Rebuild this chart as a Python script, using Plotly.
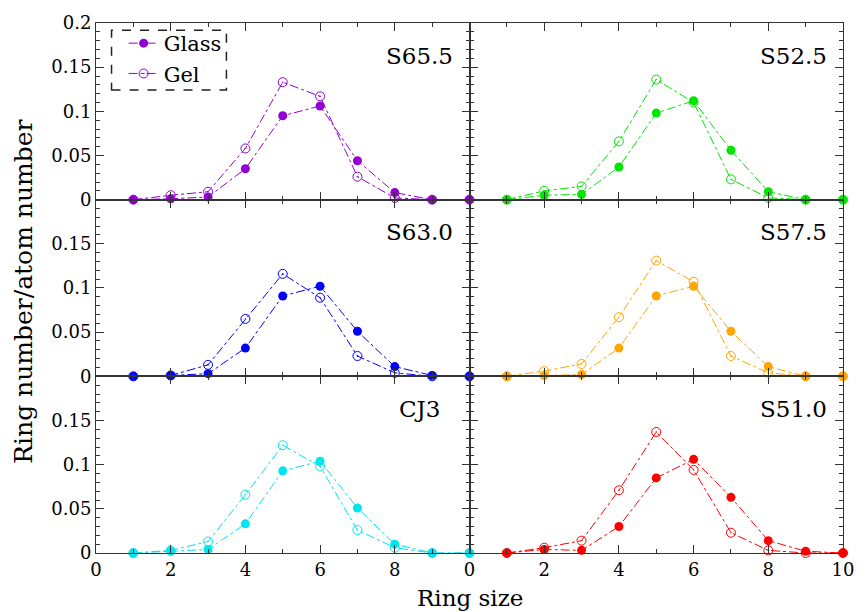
import plotly.graph_objects as go
from plotly.subplots import make_subplots

ring_size = [1, 2, 3, 4, 5, 6, 7, 8, 9, 10]

panels = ["S65.5", "S52.5", "S63.0", "S57.5", "CJ3", "S51.0"]
colors = ["#9400D3", "#00E600", "#0000FF", "#FFA500", "#00E5EE", "#FF0000"]

glass_S65_5 = [0.000, 0.001, 0.003, 0.035, 0.095, 0.106, 0.044, 0.008, 0.000, 0.000]
gel_S65_5   = [0.000, 0.005, 0.009, 0.058, 0.133, 0.117, 0.026, 0.002, 0.000, 0.000]
glass_S52_5 = [0.000, 0.005, 0.006, 0.037, 0.098, 0.112, 0.056, 0.009, 0.000, 0.000]
gel_S52_5   = [0.000, 0.010, 0.015, 0.066, 0.136, 0.110, 0.023, 0.002, 0.000, 0.000]
glass_S63_0 = [0.000, 0.001, 0.003, 0.032, 0.091, 0.102, 0.051, 0.011, 0.001, 0.000]
gel_S63_0   = [0.000, 0.001, 0.013, 0.065, 0.116, 0.089, 0.023, 0.004, 0.000, 0.000]
glass_S57_5 = [0.000, 0.001, 0.002, 0.032, 0.091, 0.102, 0.051, 0.011, 0.000, 0.000]
gel_S57_5   = [0.000, 0.006, 0.014, 0.067, 0.131, 0.107, 0.023, 0.004, 0.000, 0.000]
glass_CJ3   = [0.000, 0.002, 0.004, 0.033, 0.093, 0.104, 0.051, 0.010, 0.000, 0.000]
gel_CJ3     = [0.000, 0.003, 0.013, 0.066, 0.122, 0.098, 0.026, 0.006, 0.000, 0.000]
glass_S51_0 = [0.000, 0.004, 0.003, 0.030, 0.085, 0.106, 0.063, 0.014, 0.002, 0.000]
gel_S51_0   = [0.000, 0.006, 0.014, 0.071, 0.137, 0.094, 0.023, 0.003, 0.000, 0.000]

glass = [glass_S65_5, glass_S52_5, glass_S63_0, glass_S57_5, glass_CJ3, glass_S51_0]
gel = [gel_S65_5, gel_S52_5, gel_S63_0, gel_S57_5, gel_CJ3, gel_S51_0]

y_major = [0, 0.05, 0.1, 0.15, 0.2]
y_major_text_top = ["0", "0.05", "0.1", "0.15", "0.2"]
y_major_text = ["0", "0.05", "0.1", "0.15", ""]
y_minor = [0.01, 0.02, 0.03, 0.04, 0.06, 0.07, 0.08, 0.09, 0.11, 0.12, 0.13, 0.14, 0.16, 0.17, 0.18, 0.19]
x_major = [0, 2, 4, 6, 8, 10]
x_text_left = ["0", "2", "4", "6", "8", ""]
x_text_right = ["0", "2", "4", "6", "8", "10"]
x_minor = [1, 3, 5, 7, 9]

FONT = "DejaVu Serif"
AX = "#333333"

fig = make_subplots(rows=3, cols=2, horizontal_spacing=0, vertical_spacing=0)

for i, name in enumerate(panels):
    r = i // 2 + 1
    c = i % 2 + 1
    col = colors[i]
    fig.add_trace(go.Scatter(
        x=ring_size, y=gel[i], mode="lines+markers", name="Gel",
        line=dict(color=col, width=1, dash="dashdot"),
        marker=dict(symbol="circle-open-dot", size=9, color=col, line=dict(width=1, color=col)),
        cliponaxis=False, showlegend=(i == 0), legendrank=2), row=r, col=c)
    fig.add_trace(go.Scatter(
        x=ring_size, y=glass[i], mode="lines+markers", name="Glass",
        line=dict(color=col, width=1, dash="dashdot"),
        marker=dict(symbol="circle", size=9, color=col),
        cliponaxis=False, showlegend=(i == 0), legendrank=1), row=r, col=c)
    fig.add_annotation(text=name, x=8.67, y=0.163, xref=f"x{i+1 if i else ''}", yref=f"y{i+1 if i else ''}",
                       showarrow=False, xanchor="center", yanchor="middle",
                       font=dict(family=FONT, size=23, color="black"))

    fig.update_xaxes(range=[0, 10], tickmode="array", tickvals=x_major,
                     ticktext=(x_text_left if c == 1 else x_text_right),
                     showticklabels=(r == 3), ticks="inside", ticklen=8, tickwidth=1, tickcolor=AX,
                     minor=dict(tickvals=x_minor, ticks="inside", ticklen=4, tickwidth=1, tickcolor=AX),
                     showline=True, linecolor=AX, linewidth=1, mirror="allticks",
                     showgrid=False, zeroline=False,
                     tickfont=dict(family=FONT, size=18, color="black"), row=r, col=c)
    fig.update_yaxes(range=[0, 0.2], tickmode="array", tickvals=y_major,
                     ticktext=(y_major_text_top if r == 1 else y_major_text),
                     showticklabels=(c == 1), ticks="inside", ticklen=8, tickwidth=1, tickcolor=AX,
                     minor=dict(tickvals=y_minor, ticks="inside", ticklen=4, tickwidth=1, tickcolor=AX),
                     showline=True, linecolor=AX, linewidth=1, mirror="allticks",
                     showgrid=False, zeroline=False,
                     tickfont=dict(family=FONT, size=18, color="black"), row=r, col=c)

fig.add_annotation(text="Ring size", x=0.5, y=-0.085, xref="paper", yref="paper",
                   showarrow=False, xanchor="center", yanchor="middle",
                   font=dict(family=FONT, size=23, color="black"))
fig.add_annotation(text="Ring number/atom number", x=-0.097, y=0.492, xref="paper", yref="paper",
                   showarrow=False, xanchor="center", yanchor="middle", textangle=-90,
                   font=dict(family=FONT, size=25, color="black"))

fig.add_shape(type="rect", xref="paper", yref="paper", x0=0.0208, x1=0.1746, y0=0.8737, y1=0.9863,
              line=dict(color="#222222", width=1.5, dash="dash"), fillcolor="rgba(0,0,0,0)")

fig.update_layout(
    width=866, height=612,
    margin=dict(l=96, r=14, t=20, b=59),
    paper_bgcolor="white", plot_bgcolor="rgba(0,0,0,0)",
    showlegend=True,
    legend=dict(x=0.037, y=1.0, xanchor="left", yanchor="top", bgcolor="rgba(0,0,0,0)",
                borderwidth=0, font=dict(family=FONT, size=21, color="black"),
                itemwidth=30, tracegroupgap=0),
)

fig.write_html("out.html")
